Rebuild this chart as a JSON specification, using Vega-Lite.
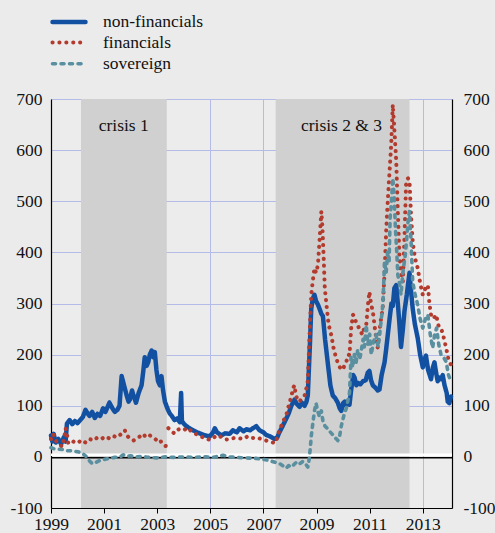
{
  "$schema": "https://vega.github.io/schema/vega-lite/v6.json",
  "width": 401,
  "height": 409,
  "autosize": {"type": "none"},
  "padding": {"left": 51, "top": 99, "right": 43, "bottom": 25},
  "background": "#ebebeb",
  "config": {
    "view": {"stroke": null, "fill": "#ececec"},
    "font": "Liberation Serif",
    "text": {"font": "Liberation Serif"},
    "legend": {"labelFont": "Liberation Serif"},
    "axis": {"labelFont": "Liberation Serif", "labelFontSize": 17.5, "labelColor": "#111111", "gridColor": "#b3bbe6", "gridWidth": 1, "gridOpacity": 1, "domainColor": "#000000", "domainWidth": 1.2, "tickColor": "#000000"}
  },
  "datasets": {
    "shade": [
      {"x0": 2000.13, "x1": 2003.36, "label": "crisis 1", "lx": 2001.74},
      {"x0": 2007.46, "x1": 2012.5, "label": "crisis 2 & 3", "lx": 2009.94}
    ],
    "series": [
      {"s":"non-financials","t":1999.00,"v":42},{"s":"non-financials","t":1999.05,"v":30},{"s":"non-financials","t":1999.10,"v":45},{"s":"non-financials","t":1999.18,"v":28},{"s":"non-financials","t":1999.28,"v":35},{"s":"non-financials","t":1999.38,"v":25},{"s":"non-financials","t":1999.48,"v":38},{"s":"non-financials","t":1999.55,"v":30},{"s":"non-financials","t":1999.60,"v":65},{"s":"non-financials","t":1999.70,"v":72},{"s":"non-financials","t":1999.80,"v":64},{"s":"non-financials","t":1999.90,"v":70},{"s":"non-financials","t":2000.00,"v":66},{"s":"non-financials","t":2000.10,"v":72},{"s":"non-financials","t":2000.20,"v":78},{"s":"non-financials","t":2000.30,"v":92},{"s":"non-financials","t":2000.38,"v":85},{"s":"non-financials","t":2000.45,"v":80},{"s":"non-financials","t":2000.55,"v":88},{"s":"non-financials","t":2000.65,"v":76},{"s":"non-financials","t":2000.75,"v":84},{"s":"non-financials","t":2000.85,"v":80},{"s":"non-financials","t":2000.96,"v":95},{"s":"non-financials","t":2001.05,"v":88},{"s":"non-financials","t":2001.20,"v":106},{"s":"non-financials","t":2001.30,"v":96},{"s":"non-financials","t":2001.40,"v":88},{"s":"non-financials","t":2001.50,"v":92},{"s":"non-financials","t":2001.58,"v":100},{"s":"non-financials","t":2001.66,"v":158},{"s":"non-financials","t":2001.75,"v":140},{"s":"non-financials","t":2001.85,"v":120},{"s":"non-financials","t":2001.92,"v":108},{"s":"non-financials","t":2001.97,"v":112},{"s":"non-financials","t":2002.05,"v":130},{"s":"non-financials","t":2002.12,"v":118},{"s":"non-financials","t":2002.20,"v":106},{"s":"non-financials","t":2002.30,"v":125},{"s":"non-financials","t":2002.41,"v":140},{"s":"non-financials","t":2002.48,"v":170},{"s":"non-financials","t":2002.53,"v":195},{"s":"non-financials","t":2002.60,"v":178},{"s":"non-financials","t":2002.66,"v":185},{"s":"non-financials","t":2002.72,"v":200},{"s":"non-financials","t":2002.79,"v":208},{"s":"non-financials","t":2002.85,"v":195},{"s":"non-financials","t":2002.91,"v":205},{"s":"non-financials","t":2002.97,"v":170},{"s":"non-financials","t":2003.03,"v":148},{"s":"non-financials","t":2003.10,"v":140},{"s":"non-financials","t":2003.16,"v":158},{"s":"non-financials","t":2003.22,"v":130},{"s":"non-financials","t":2003.29,"v":108},{"s":"non-financials","t":2003.38,"v":95},{"s":"non-financials","t":2003.47,"v":85},{"s":"non-financials","t":2003.55,"v":80},{"s":"non-financials","t":2003.65,"v":72},{"s":"non-financials","t":2003.75,"v":75},{"s":"non-financials","t":2003.85,"v":68},{"s":"non-financials","t":2003.90,"v":125},{"s":"non-financials","t":2003.93,"v":70},{"s":"non-financials","t":2004.00,"v":65},{"s":"non-financials","t":2004.10,"v":60},{"s":"non-financials","t":2004.22,"v":56},{"s":"non-financials","t":2004.35,"v":52},{"s":"non-financials","t":2004.50,"v":48},{"s":"non-financials","t":2004.65,"v":45},{"s":"non-financials","t":2004.80,"v":42},{"s":"non-financials","t":2004.98,"v":40},{"s":"non-financials","t":2005.10,"v":48},{"s":"non-financials","t":2005.17,"v":56},{"s":"non-financials","t":2005.25,"v":48},{"s":"non-financials","t":2005.42,"v":42},{"s":"non-financials","t":2005.55,"v":46},{"s":"non-financials","t":2005.73,"v":45},{"s":"non-financials","t":2005.85,"v":52},{"s":"non-financials","t":2006.00,"v":48},{"s":"non-financials","t":2006.10,"v":56},{"s":"non-financials","t":2006.25,"v":50},{"s":"non-financials","t":2006.36,"v":54},{"s":"non-financials","t":2006.50,"v":52},{"s":"non-financials","t":2006.60,"v":56},{"s":"non-financials","t":2006.73,"v":60},{"s":"non-financials","t":2006.85,"v":52},{"s":"non-financials","t":2007.00,"v":48},{"s":"non-financials","t":2007.10,"v":43},{"s":"non-financials","t":2007.25,"v":40},{"s":"non-financials","t":2007.42,"v":35},{"s":"non-financials","t":2007.52,"v":38},{"s":"non-financials","t":2007.60,"v":48},{"s":"non-financials","t":2007.70,"v":58},{"s":"non-financials","t":2007.86,"v":75},{"s":"non-financials","t":2007.95,"v":85},{"s":"non-financials","t":2008.05,"v":100},{"s":"non-financials","t":2008.17,"v":112},{"s":"non-financials","t":2008.25,"v":104},{"s":"non-financials","t":2008.36,"v":98},{"s":"non-financials","t":2008.45,"v":106},{"s":"non-financials","t":2008.55,"v":100},{"s":"non-financials","t":2008.62,"v":108},{"s":"non-financials","t":2008.67,"v":120},{"s":"non-financials","t":2008.75,"v":220},{"s":"non-financials","t":2008.80,"v":290},{"s":"non-financials","t":2008.86,"v":310},{"s":"non-financials","t":2008.92,"v":317},{"s":"non-financials","t":2008.98,"v":305},{"s":"non-financials","t":2009.05,"v":298},{"s":"non-financials","t":2009.11,"v":290},{"s":"non-financials","t":2009.18,"v":280},{"s":"non-financials","t":2009.24,"v":275},{"s":"non-financials","t":2009.32,"v":230},{"s":"non-financials","t":2009.42,"v":185},{"s":"non-financials","t":2009.52,"v":140},{"s":"non-financials","t":2009.61,"v":120},{"s":"non-financials","t":2009.70,"v":115},{"s":"non-financials","t":2009.80,"v":106},{"s":"non-financials","t":2009.87,"v":95},{"s":"non-financials","t":2009.93,"v":90},{"s":"non-financials","t":2010.00,"v":105},{"s":"non-financials","t":2010.06,"v":108},{"s":"non-financials","t":2010.12,"v":100},{"s":"non-financials","t":2010.20,"v":110},{"s":"non-financials","t":2010.24,"v":102},{"s":"non-financials","t":2010.30,"v":130},{"s":"non-financials","t":2010.38,"v":160},{"s":"non-financials","t":2010.43,"v":155},{"s":"non-financials","t":2010.50,"v":140},{"s":"non-financials","t":2010.55,"v":145},{"s":"non-financials","t":2010.65,"v":142},{"s":"non-financials","t":2010.75,"v":148},{"s":"non-financials","t":2010.85,"v":150},{"s":"non-financials","t":2010.93,"v":165},{"s":"non-financials","t":2010.99,"v":168},{"s":"non-financials","t":2011.05,"v":150},{"s":"non-financials","t":2011.12,"v":140},{"s":"non-financials","t":2011.22,"v":135},{"s":"non-financials","t":2011.30,"v":130},{"s":"non-financials","t":2011.37,"v":132},{"s":"non-financials","t":2011.45,"v":160},{"s":"non-financials","t":2011.56,"v":185},{"s":"non-financials","t":2011.62,"v":210},{"s":"non-financials","t":2011.68,"v":238},{"s":"non-financials","t":2011.75,"v":270},{"s":"non-financials","t":2011.82,"v":300},{"s":"non-financials","t":2011.87,"v":295},{"s":"non-financials","t":2011.93,"v":330},{"s":"non-financials","t":2012.00,"v":336},{"s":"non-financials","t":2012.06,"v":300},{"s":"non-financials","t":2012.12,"v":260},{"s":"non-financials","t":2012.18,"v":215},{"s":"non-financials","t":2012.25,"v":250},{"s":"non-financials","t":2012.31,"v":285},{"s":"non-financials","t":2012.40,"v":318},{"s":"non-financials","t":2012.45,"v":340},{"s":"non-financials","t":2012.50,"v":360},{"s":"non-financials","t":2012.55,"v":330},{"s":"non-financials","t":2012.62,"v":290},{"s":"non-financials","t":2012.70,"v":260},{"s":"non-financials","t":2012.81,"v":232},{"s":"non-financials","t":2012.90,"v":200},{"s":"non-financials","t":2013.00,"v":175},{"s":"non-financials","t":2013.06,"v":190},{"s":"non-financials","t":2013.12,"v":198},{"s":"non-financials","t":2013.20,"v":170},{"s":"non-financials","t":2013.31,"v":152},{"s":"non-financials","t":2013.38,"v":175},{"s":"non-financials","t":2013.44,"v":185},{"s":"non-financials","t":2013.50,"v":165},{"s":"non-financials","t":2013.56,"v":148},{"s":"non-financials","t":2013.63,"v":155},{"s":"non-financials","t":2013.70,"v":152},{"s":"non-financials","t":2013.75,"v":160},{"s":"non-financials","t":2013.82,"v":140},{"s":"non-financials","t":2013.90,"v":125},{"s":"non-financials","t":2013.94,"v":108},{"s":"non-financials","t":2014.00,"v":105},{"s":"non-financials","t":2014.06,"v":118},
      {"s":"financials","t":1999.00,"v":35},{"s":"financials","t":1999.05,"v":45},{"s":"financials","t":1999.12,"v":42},{"s":"financials","t":1999.20,"v":30},{"s":"financials","t":1999.30,"v":25},{"s":"financials","t":1999.42,"v":20},{"s":"financials","t":1999.50,"v":38},{"s":"financials","t":1999.55,"v":56},{"s":"financials","t":1999.60,"v":45},{"s":"financials","t":1999.65,"v":27},{"s":"financials","t":1999.75,"v":25},{"s":"financials","t":1999.85,"v":30},{"s":"financials","t":2000.00,"v":27},{"s":"financials","t":2000.15,"v":33},{"s":"financials","t":2000.30,"v":28},{"s":"financials","t":2000.45,"v":35},{"s":"financials","t":2000.60,"v":32},{"s":"financials","t":2000.75,"v":38},{"s":"financials","t":2000.90,"v":35},{"s":"financials","t":2001.05,"v":40},{"s":"financials","t":2001.20,"v":36},{"s":"financials","t":2001.35,"v":41},{"s":"financials","t":2001.47,"v":38},{"s":"financials","t":2001.60,"v":43},{"s":"financials","t":2001.72,"v":48},{"s":"financials","t":2001.78,"v":52},{"s":"financials","t":2001.85,"v":42},{"s":"financials","t":2001.97,"v":36},{"s":"financials","t":2002.10,"v":32},{"s":"financials","t":2002.22,"v":35},{"s":"financials","t":2002.35,"v":40},{"s":"financials","t":2002.47,"v":45},{"s":"financials","t":2002.58,"v":38},{"s":"financials","t":2002.72,"v":42},{"s":"financials","t":2002.85,"v":38},{"s":"financials","t":2002.97,"v":33},{"s":"financials","t":2003.08,"v":35},{"s":"financials","t":2003.16,"v":28},{"s":"financials","t":2003.25,"v":22},{"s":"financials","t":2003.35,"v":21},{"s":"financials","t":2003.39,"v":null},{"s":"financials","t":2003.42,"v":56},{"s":"financials","t":2003.50,"v":52},{"s":"financials","t":2003.58,"v":48},{"s":"financials","t":2003.66,"v":46},{"s":"financials","t":2003.75,"v":52},{"s":"financials","t":2003.85,"v":55},{"s":"financials","t":2003.97,"v":56},{"s":"financials","t":2004.10,"v":52},{"s":"financials","t":2004.20,"v":55},{"s":"financials","t":2004.29,"v":49},{"s":"financials","t":2004.45,"v":45},{"s":"financials","t":2004.60,"v":40},{"s":"financials","t":2004.75,"v":38},{"s":"financials","t":2004.90,"v":35},{"s":"financials","t":2004.98,"v":33},{"s":"financials","t":2005.10,"v":36},{"s":"financials","t":2005.22,"v":42},{"s":"financials","t":2005.35,"v":40},{"s":"financials","t":2005.48,"v":38},{"s":"financials","t":2005.60,"v":34},{"s":"financials","t":2005.75,"v":35},{"s":"financials","t":2005.90,"v":37},{"s":"financials","t":2006.10,"v":36},{"s":"financials","t":2006.25,"v":35},{"s":"financials","t":2006.40,"v":40},{"s":"financials","t":2006.48,"v":40},{"s":"financials","t":2006.60,"v":37},{"s":"financials","t":2006.75,"v":38},{"s":"financials","t":2006.85,"v":36},{"s":"financials","t":2007.00,"v":34},{"s":"financials","t":2007.20,"v":30},{"s":"financials","t":2007.36,"v":28},{"s":"financials","t":2007.45,"v":27},{"s":"financials","t":2007.52,"v":38},{"s":"financials","t":2007.60,"v":52},{"s":"financials","t":2007.75,"v":70},{"s":"financials","t":2007.86,"v":82},{"s":"financials","t":2007.95,"v":100},{"s":"financials","t":2008.05,"v":118},{"s":"financials","t":2008.12,"v":135},{"s":"financials","t":2008.17,"v":140},{"s":"financials","t":2008.22,"v":120},{"s":"financials","t":2008.30,"v":110},{"s":"financials","t":2008.36,"v":108},{"s":"financials","t":2008.45,"v":115},{"s":"financials","t":2008.55,"v":120},{"s":"financials","t":2008.62,"v":135},{"s":"financials","t":2008.67,"v":148},{"s":"financials","t":2008.73,"v":230},{"s":"financials","t":2008.80,"v":317},{"s":"financials","t":2008.86,"v":345},{"s":"financials","t":2008.92,"v":369},{"s":"financials","t":2008.98,"v":360},{"s":"financials","t":2009.05,"v":375},{"s":"financials","t":2009.12,"v":430},{"s":"financials","t":2009.18,"v":480},{"s":"financials","t":2009.22,"v":450},{"s":"financials","t":2009.26,"v":400},{"s":"financials","t":2009.31,"v":330},{"s":"financials","t":2009.36,"v":304},{"s":"financials","t":2009.45,"v":260},{"s":"financials","t":2009.55,"v":239},{"s":"financials","t":2009.65,"v":210},{"s":"financials","t":2009.74,"v":193},{"s":"financials","t":2009.83,"v":180},{"s":"financials","t":2009.93,"v":170},{"s":"financials","t":2010.02,"v":175},{"s":"financials","t":2010.12,"v":186},{"s":"financials","t":2010.20,"v":200},{"s":"financials","t":2010.24,"v":199},{"s":"financials","t":2010.30,"v":250},{"s":"financials","t":2010.37,"v":278},{"s":"financials","t":2010.43,"v":275},{"s":"financials","t":2010.50,"v":260},{"s":"financials","t":2010.55,"v":258},{"s":"financials","t":2010.65,"v":245},{"s":"financials","t":2010.74,"v":239},{"s":"financials","t":2010.80,"v":255},{"s":"financials","t":2010.87,"v":258},{"s":"financials","t":2010.94,"v":300},{"s":"financials","t":2010.99,"v":323},{"s":"financials","t":2011.05,"v":300},{"s":"financials","t":2011.12,"v":284},{"s":"financials","t":2011.20,"v":250},{"s":"financials","t":2011.30,"v":213},{"s":"financials","t":2011.40,"v":260},{"s":"financials","t":2011.49,"v":291},{"s":"financials","t":2011.56,"v":360},{"s":"financials","t":2011.62,"v":440},{"s":"financials","t":2011.68,"v":499},{"s":"financials","t":2011.75,"v":560},{"s":"financials","t":2011.81,"v":610},{"s":"financials","t":2011.87,"v":689},{"s":"financials","t":2011.93,"v":640},{"s":"financials","t":2012.00,"v":578},{"s":"financials","t":2012.06,"v":480},{"s":"financials","t":2012.12,"v":395},{"s":"financials","t":2012.18,"v":360},{"s":"financials","t":2012.25,"v":343},{"s":"financials","t":2012.31,"v":430},{"s":"financials","t":2012.37,"v":532},{"s":"financials","t":2012.44,"v":545},{"s":"financials","t":2012.50,"v":540},{"s":"financials","t":2012.56,"v":470},{"s":"financials","t":2012.62,"v":421},{"s":"financials","t":2012.70,"v":390},{"s":"financials","t":2012.81,"v":369},{"s":"financials","t":2012.90,"v":340},{"s":"financials","t":2013.00,"v":317},{"s":"financials","t":2013.10,"v":330},{"s":"financials","t":2013.19,"v":336},{"s":"financials","t":2013.25,"v":300},{"s":"financials","t":2013.31,"v":278},{"s":"financials","t":2013.40,"v":270},{"s":"financials","t":2013.50,"v":278},{"s":"financials","t":2013.60,"v":255},{"s":"financials","t":2013.69,"v":252},{"s":"financials","t":2013.78,"v":235},{"s":"financials","t":2013.88,"v":213},{"s":"financials","t":2013.97,"v":190},{"s":"financials","t":2014.06,"v":180},
      {"s":"sovereign","t":1999.00,"v":18},{"s":"sovereign","t":1999.10,"v":16},{"s":"sovereign","t":1999.30,"v":15},{"s":"sovereign","t":1999.50,"v":14},{"s":"sovereign","t":1999.60,"v":12},{"s":"sovereign","t":1999.80,"v":12},{"s":"sovereign","t":2000.00,"v":10},{"s":"sovereign","t":2000.15,"v":8},{"s":"sovereign","t":2000.25,"v":4},{"s":"sovereign","t":2000.34,"v":0},{"s":"sovereign","t":2000.45,"v":-8},{"s":"sovereign","t":2000.55,"v":-13},{"s":"sovereign","t":2000.65,"v":-12},{"s":"sovereign","t":2000.80,"v":-8},{"s":"sovereign","t":2001.00,"v":-5},{"s":"sovereign","t":2001.20,"v":-3},{"s":"sovereign","t":2001.40,"v":-1},{"s":"sovereign","t":2001.60,"v":0},{"s":"sovereign","t":2001.72,"v":4},{"s":"sovereign","t":2001.85,"v":1},{"s":"sovereign","t":2002.00,"v":2},{"s":"sovereign","t":2002.20,"v":0},{"s":"sovereign","t":2002.40,"v":1},{"s":"sovereign","t":2002.70,"v":-1},{"s":"sovereign","t":2003.00,"v":-2},{"s":"sovereign","t":2003.30,"v":0},{"s":"sovereign","t":2003.60,"v":-1},{"s":"sovereign","t":2004.00,"v":0},{"s":"sovereign","t":2004.40,"v":-1},{"s":"sovereign","t":2004.80,"v":0},{"s":"sovereign","t":2005.10,"v":-1},{"s":"sovereign","t":2005.48,"v":3},{"s":"sovereign","t":2005.70,"v":0},{"s":"sovereign","t":2006.00,"v":-1},{"s":"sovereign","t":2006.30,"v":-2},{"s":"sovereign","t":2006.73,"v":-3},{"s":"sovereign","t":2007.00,"v":-5},{"s":"sovereign","t":2007.20,"v":-7},{"s":"sovereign","t":2007.40,"v":-10},{"s":"sovereign","t":2007.60,"v":-13},{"s":"sovereign","t":2007.75,"v":-18},{"s":"sovereign","t":2007.86,"v":-22},{"s":"sovereign","t":2007.95,"v":-17},{"s":"sovereign","t":2008.05,"v":-20},{"s":"sovereign","t":2008.15,"v":-15},{"s":"sovereign","t":2008.25,"v":-10},{"s":"sovereign","t":2008.35,"v":-14},{"s":"sovereign","t":2008.48,"v":-9},{"s":"sovereign","t":2008.58,"v":-13},{"s":"sovereign","t":2008.67,"v":-20},{"s":"sovereign","t":2008.72,"v":-5},{"s":"sovereign","t":2008.76,"v":15},{"s":"sovereign","t":2008.80,"v":40},{"s":"sovereign","t":2008.86,"v":66},{"s":"sovereign","t":2008.92,"v":90},{"s":"sovereign","t":2008.98,"v":105},{"s":"sovereign","t":2009.05,"v":88},{"s":"sovereign","t":2009.11,"v":79},{"s":"sovereign","t":2009.18,"v":90},{"s":"sovereign","t":2009.24,"v":70},{"s":"sovereign","t":2009.32,"v":60},{"s":"sovereign","t":2009.42,"v":55},{"s":"sovereign","t":2009.49,"v":50},{"s":"sovereign","t":2009.58,"v":45},{"s":"sovereign","t":2009.68,"v":38},{"s":"sovereign","t":2009.75,"v":35},{"s":"sovereign","t":2009.80,"v":32},{"s":"sovereign","t":2009.86,"v":38},{"s":"sovereign","t":2009.93,"v":60},{"s":"sovereign","t":2010.00,"v":75},{"s":"sovereign","t":2010.05,"v":85},{"s":"sovereign","t":2010.12,"v":95},{"s":"sovereign","t":2010.20,"v":115},{"s":"sovereign","t":2010.24,"v":125},{"s":"sovereign","t":2010.30,"v":195},{"s":"sovereign","t":2010.36,"v":175},{"s":"sovereign","t":2010.42,"v":200},{"s":"sovereign","t":2010.49,"v":185},{"s":"sovereign","t":2010.55,"v":210},{"s":"sovereign","t":2010.62,"v":190},{"s":"sovereign","t":2010.68,"v":206},{"s":"sovereign","t":2010.75,"v":230},{"s":"sovereign","t":2010.80,"v":215},{"s":"sovereign","t":2010.87,"v":258},{"s":"sovereign","t":2010.93,"v":220},{"s":"sovereign","t":2011.00,"v":240},{"s":"sovereign","t":2011.06,"v":200},{"s":"sovereign","t":2011.14,"v":225},{"s":"sovereign","t":2011.24,"v":239},{"s":"sovereign","t":2011.32,"v":215},{"s":"sovereign","t":2011.43,"v":265},{"s":"sovereign","t":2011.50,"v":300},{"s":"sovereign","t":2011.56,"v":382},{"s":"sovereign","t":2011.62,"v":360},{"s":"sovereign","t":2011.68,"v":402},{"s":"sovereign","t":2011.73,"v":380},{"s":"sovereign","t":2011.77,"v":467},{"s":"sovereign","t":2011.82,"v":500},{"s":"sovereign","t":2011.87,"v":545},{"s":"sovereign","t":2011.92,"v":510},{"s":"sovereign","t":2011.97,"v":447},{"s":"sovereign","t":2012.02,"v":400},{"s":"sovereign","t":2012.06,"v":356},{"s":"sovereign","t":2012.12,"v":340},{"s":"sovereign","t":2012.18,"v":317},{"s":"sovereign","t":2012.25,"v":360},{"s":"sovereign","t":2012.34,"v":395},{"s":"sovereign","t":2012.40,"v":430},{"s":"sovereign","t":2012.46,"v":470},{"s":"sovereign","t":2012.50,"v":480},{"s":"sovereign","t":2012.56,"v":420},{"s":"sovereign","t":2012.62,"v":343},{"s":"sovereign","t":2012.70,"v":320},{"s":"sovereign","t":2012.81,"v":297},{"s":"sovereign","t":2012.90,"v":270},{"s":"sovereign","t":2013.00,"v":252},{"s":"sovereign","t":2013.10,"v":270},{"s":"sovereign","t":2013.19,"v":278},{"s":"sovereign","t":2013.28,"v":240},{"s":"sovereign","t":2013.37,"v":213},{"s":"sovereign","t":2013.45,"v":240},{"s":"sovereign","t":2013.52,"v":252},{"s":"sovereign","t":2013.60,"v":220},{"s":"sovereign","t":2013.69,"v":199},{"s":"sovereign","t":2013.78,"v":195},{"s":"sovereign","t":2013.88,"v":186},{"s":"sovereign","t":2013.97,"v":160},{"s":"sovereign","t":2014.06,"v":147}
    ]
  },
  "resolve": {"axis": {"y": "independent"}},
  "layer": [
    {
      "data": {"name": "shade"},
      "mark": {"type": "rect", "color": "#cfd0cf"},
      "encoding": {
        "x": {"field": "x0", "type": "quantitative", "title": null,
          "scale": {"domain": [1999, 2014.1], "nice": false, "zero": false},
          "axis": {"values": [1999, 2001, 2003, 2005, 2007, 2009, 2011, 2013], "labelExpr": "'' + datum.value", "labelFont": "Liberation Serif", "grid": true, "ticks": true, "tickSize": 5, "labelPadding": 2, "labelFlush": false, "labelOverlap": false}},
        "x2": {"field": "x1"},
        "y": {"datum": -100, "type": "quantitative",
          "scale": {"domain": [-100, 700], "nice": false},
          "axis": {"orient": "left", "values": [-100, 0, 100, 200, 300, 400, 500, 600, 700], "labelExpr": "'' + datum.value", "labelFont": "Liberation Serif", "grid": true, "ticks": false, "labelPadding": 9, "title": null}},
        "y2": {"datum": 700}
      }
    },
    {
      "data": {"values": [{"z": 0}]},
      "mark": {"type": "rule", "color": "#ffffff", "strokeWidth": 2.5},
      "encoding": {"y": {"datum": 4, "type": "quantitative", "axis": null}}
    },
    {
      "data": {"values": [{"z": 0}]},
      "mark": {"type": "rule", "color": "#000000", "strokeWidth": 1.5},
      "encoding": {"y": {"datum": -1.5, "type": "quantitative", "axis": null}}
    },
    {
      "data": {"name": "series"},
      "mark": {"type": "line", "strokeCap": "round", "strokeJoin": "round"},
      "encoding": {
        "x": {"field": "t", "type": "quantitative", "title": null},
        "y": {"field": "v", "type": "quantitative", "title": null,
          "axis": {"orient": "right", "values": [-100, 0, 100, 200, 300, 400, 500, 600, 700], "labelExpr": "'' + datum.value", "labelFont": "Liberation Serif", "grid": false, "ticks": false, "labelPadding": 11}},
        "color": {"field": "s", "type": "nominal", "title": null,
          "scale": {"domain": ["non-financials", "financials", "sovereign"], "range": ["#1250a2", "#b33b2e", "#5a8fa0"]},
          "legend": {"orient": "none", "legendX": 9, "legendY": -86, "padding": 0, "symbolType": "M-2.5,0H2.5", "symbolSize": 174, "labelOffset": 25, "labelFontSize": 17.5, "labelFont": "Liberation Serif", "labelColor": "#111111", "rowPadding": 2.5, "direction": "vertical",
            "encode": {"symbols": {"update": {"strokeCap": {"value": "round"}}}, "labels": {"update": {"font": {"value": "Liberation Serif"}}}}}},
        "strokeDash": {"field": "s", "type": "nominal", "title": null,
          "scale": {"domain": ["non-financials", "financials", "sovereign"], "range": [[1, 0], [0.1, 6.8], [3, 5.5]]}},
        "strokeWidth": {"field": "s", "type": "nominal", "title": null,
          "scale": {"domain": ["non-financials", "financials", "sovereign"], "range": [4.5, 3.6, 4.5]}}
      }
    },
    {
      "data": {"name": "shade"},
      "mark": {"type": "text", "fontSize": 17.5, "font": "Liberation Serif", "color": "#111111", "baseline": "middle", "align": "center"},
      "encoding": {
        "x": {"field": "lx", "type": "quantitative"},
        "y": {"datum": 647, "type": "quantitative", "axis": null},
        "text": {"field": "label"}
      }
    }
  ]
}
